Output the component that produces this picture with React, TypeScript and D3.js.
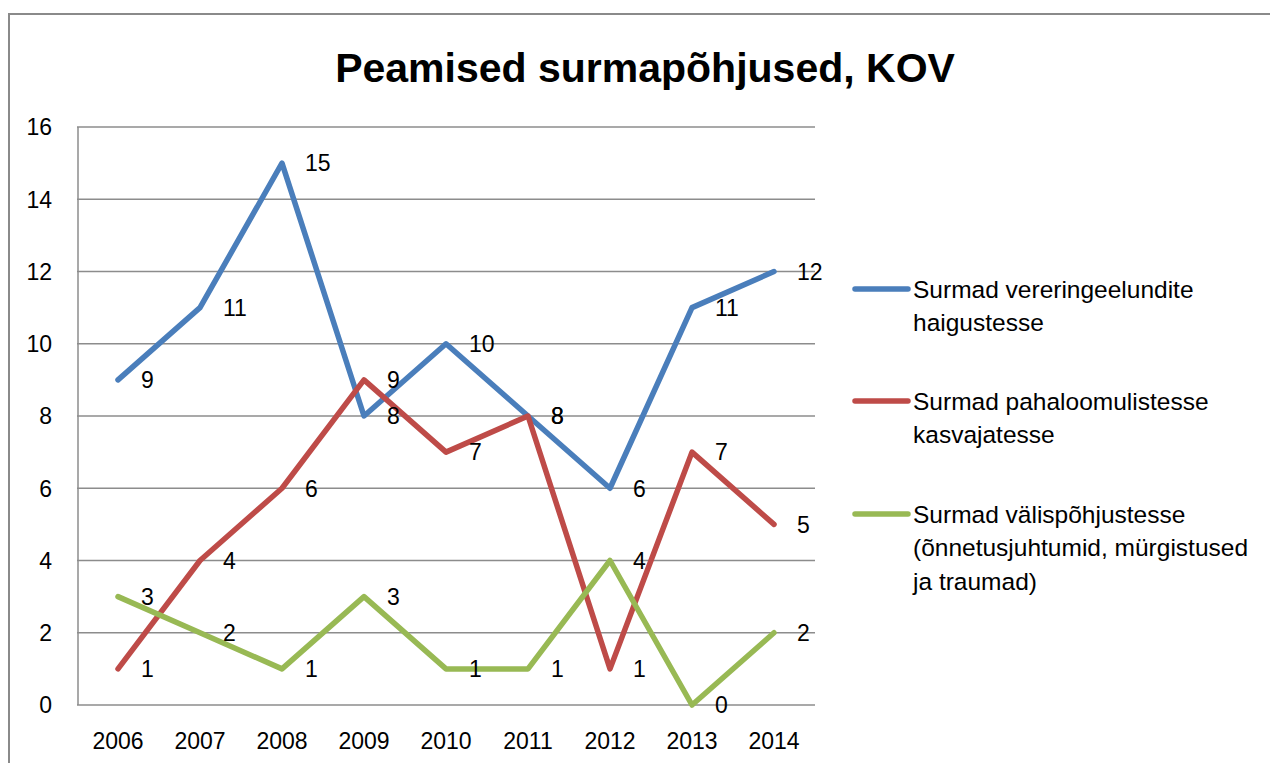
import { useEffect, useRef } from 'react';
import * as d3 from 'd3';

const years = ['2006', '2007', '2008', '2009', '2010', '2011', '2012', '2013', '2014'];
const circulatory = [9, 11, 15, 8, 10, 8, 6, 11, 12];
const tumours = [1, 4, 6, 9, 7, 8, 1, 7, 5];
const external = [3, 2, 1, 3, 1, 1, 4, 0, 2];
const yTicks = [0, 2, 4, 6, 8, 10, 12, 14, 16];

interface Series {
  name: string[];
  values: number[];
  color: string;
}

const series: Series[] = [
  { name: ['Surmad vereringeelundite', 'haigustesse'], values: circulatory, color: '#4a7ebb' },
  { name: ['Surmad pahaloomulistesse', 'kasvajatesse'], values: tumours, color: '#be4b48' },
  {
    name: ['Surmad välispõhjustesse', '(õnnetusjuhtumid, mürgistused', 'ja traumad)'],
    values: external,
    color: '#98b954',
  },
];

const FONT = '"Liberation Sans", Arial, sans-serif';

const Chart: React.FC = () => {
  const svgRef = useRef<SVGSVGElement | null>(null);

  useEffect(() => {
    if (!svgRef.current) return;
    const width = 1270;
    const height = 763;

    const svg = d3.select(svgRef.current).attr('width', width).attr('height', height);
    svg.selectAll('*').remove();

    svg.append('rect').attr('width', width).attr('height', height).attr('fill', '#fff');

    // outer chart frame (only top and left edges are visible)
    svg
      .append('path')
      .attr('d', `M9,${height} V14 H${width}`)
      .attr('fill', 'none')
      .attr('stroke', '#8a8a8a')
      .attr('stroke-width', 2);

    svg
      .append('text')
      .attr('x', 645)
      .attr('y', 82)
      .attr('text-anchor', 'middle')
      .style('font-family', FONT)
      .style('font-weight', 'bold')
      .style('font-size', '41px')
      .text('Peamised surmapõhjused, KOV');

    const x = d3.scaleBand().domain(years).range([77, 815]);
    const cx = (yr: string) => (x(yr) || 0) + x.bandwidth() / 2;
    const y = d3.scaleLinear().domain([0, 16]).range([705, 127]);

    // gridlines
    svg
      .append('g')
      .selectAll('line')
      .data(yTicks)
      .join('line')
      .attr('x1', 77)
      .attr('x2', 815)
      .attr('y1', (d) => y(d))
      .attr('y2', (d) => y(d))
      .attr('stroke', '#8c8c8c')
      .attr('stroke-width', 1.5);

    svg
      .append('line')
      .attr('x1', 78)
      .attr('x2', 78)
      .attr('y1', y(16))
      .attr('y2', y(0))
      .attr('stroke', '#8c8c8c')
      .attr('stroke-width', 1.5);

    // y tick labels
    svg
      .append('g')
      .selectAll('text')
      .data(yTicks)
      .join('text')
      .attr('x', 52)
      .attr('y', (d) => y(d))
      .attr('dy', '0.36em')
      .attr('text-anchor', 'end')
      .style('font-family', FONT)
      .style('font-size', '23px')
      .text((d) => d);

    // x tick labels
    svg
      .append('g')
      .selectAll('text')
      .data(years)
      .join('text')
      .attr('x', (d) => cx(d))
      .attr('y', 741)
      .attr('dy', '0.36em')
      .attr('text-anchor', 'middle')
      .style('font-family', FONT)
      .style('font-size', '23px')
      .text((d) => d);

    const line = d3
      .line<number>()
      .x((_, i) => cx(years[i]))
      .y((d) => y(d));

    series.forEach((s) => {
      svg
        .append('path')
        .attr('d', line(s.values))
        .attr('fill', 'none')
        .attr('stroke', s.color)
        .attr('stroke-width', 5.5)
        .attr('stroke-linejoin', 'round')
        .attr('stroke-linecap', 'round');
    });

    series.forEach((s) => {
      svg
        .append('g')
        .selectAll('text')
        .data(s.values)
        .join('text')
        .attr('x', (_, i) => cx(years[i]) + 23)
        .attr('y', (d) => y(d))
        .attr('dy', '0.36em')
        .style('font-family', FONT)
        .style('font-size', '23px')
        .text((d) => d);
    });

    // legend
    const legendY = [289, 401, 514];
    series.forEach((s, i) => {
      const g = svg.append('g').attr('transform', `translate(0, ${legendY[i]})`);
      g.append('line')
        .attr('x1', 855)
        .attr('x2', 908)
        .attr('stroke', s.color)
        .attr('stroke-width', 5.5)
        .attr('stroke-linecap', 'round');
      s.name.forEach((ln, j) => {
        g.append('text')
          .attr('x', 913)
          .attr('y', j * 33.5)
          .attr('dy', '0.36em')
          .style('font-family', FONT)
          .style('font-size', '24.5px')
          .text(ln);
      });
    });
  }, []);

  return <svg ref={svgRef} style={{ position: 'absolute', left: 0, top: 0 }} />;
};

export default function App() {
  return <Chart />;
}
